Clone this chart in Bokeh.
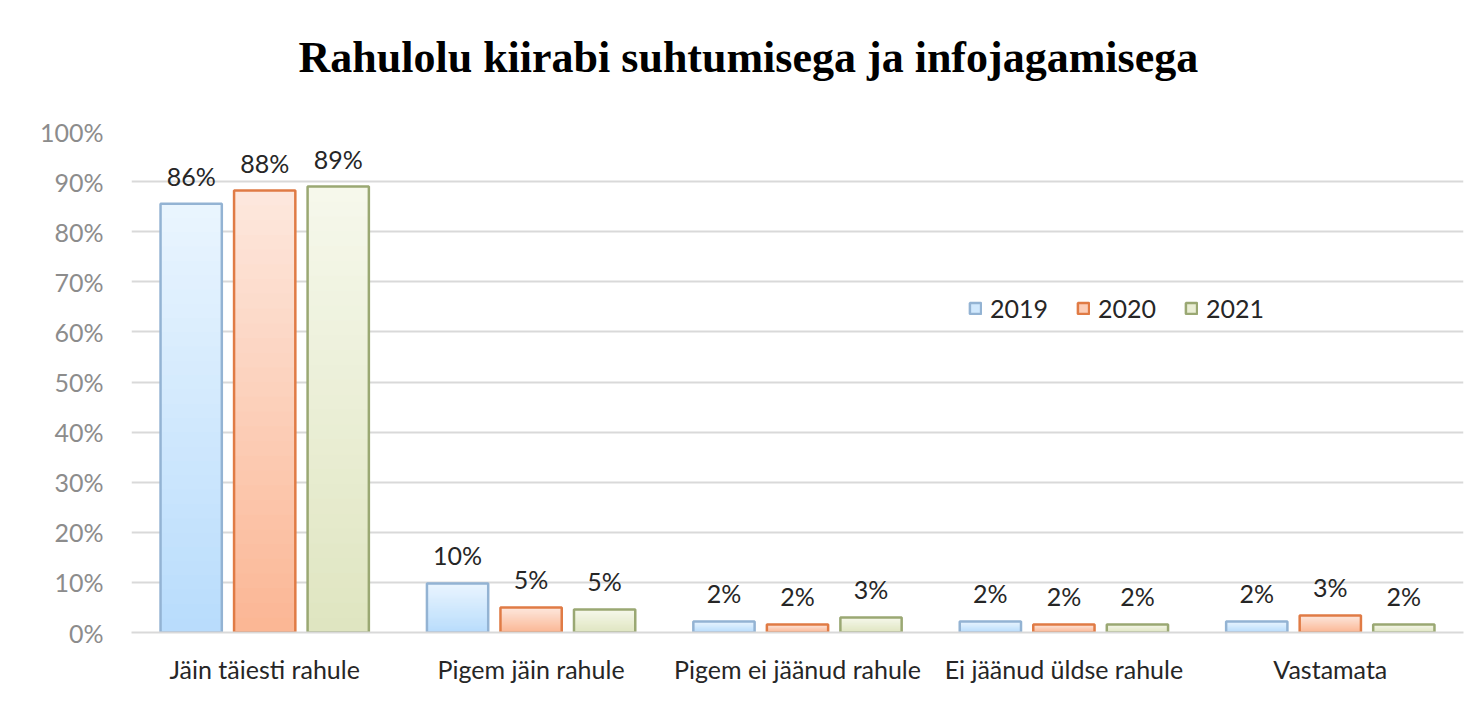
from bokeh.plotting import figure
from bokeh.models import (ColumnDataSource, Range1d, LabelSet, Legend, LegendItem,
                          PrintfTickFormatter, Title)
from bokeh.core.properties import value
from bokeh.transform import dodge
from bokeh.embed import file_html
from bokeh.resources import INLINE

# ---- data ----
title_text = "Rahulolu  kiirabi  suhtumisega  ja  infojagamisega"
categories = ["Jäin täiesti rahule", "Pigem jäin rahule", "Pigem ei jäänud rahule",
              "Ei jäänud üldse rahule", "Vastamata"]
years = ["2019", "2020", "2021"]
v2019 = [85.6, 9.8, 2.2, 2.2, 2.2]
v2020 = [88.2, 5.0, 1.6, 1.6, 3.4]
v2021 = [89.0, 4.6, 3.0, 1.6, 1.6]
series = [v2019, v2020, v2021]

# ---- style ----
top_cols = [(234, 245, 254), (253, 232, 222), (246, 248, 236)]
bot_cols = [(184, 220, 252), (251, 182, 148), (223, 229, 192)]
line_cols = ["#93b3d3", "#e07b45", "#9aa873"]
offsets = [-0.276, 0.0, 0.276]
bar_w = 0.23
N = 30
FONT = "Lato"
FS = "25px"

p = figure(x_range=categories, y_range=Range1d(0, 100), width=1477, height=728,
           output_backend="svg", toolbar_location=None,
           min_border_left=131, min_border_right=14, min_border_top=131,
           min_border_bottom=96)
p.outline_line_color = None
p.border_fill_color = "white"

p.title.text = title_text
p.title.text_font = "Liberation Serif"
p.title.text_font_style = "bold"
p.title.text_font_size = "44px"
p.title.align = "left"
p.title.offset = 167
p.title.text_color = "black"
p.title.standoff = 10

# invisible spacer between the title and the plot area
p.add_layout(Title(text=" ", text_font_size="1px", standoff=42), "above")

p.xgrid.grid_line_color = None
p.ygrid.grid_line_color = "#d9d9d9"
p.ygrid.grid_line_width = 2

p.yaxis.axis_line_color = None
p.yaxis.major_tick_line_color = None
p.yaxis.minor_tick_line_color = None
p.yaxis.ticker = list(range(0, 101, 10))
p.yaxis.formatter = PrintfTickFormatter(format="%d%%")
p.yaxis.major_label_text_font = FONT
p.yaxis.major_label_text_font_size = FS
p.yaxis.major_label_text_color = "#8c8c8c"
p.yaxis.major_label_standoff = 22

p.xaxis.axis_line_color = "#d9d9d9"
p.xaxis.axis_line_width = 2
p.xaxis.major_tick_line_color = None
p.xaxis.minor_tick_line_color = None
p.xaxis.major_label_text_font = FONT
p.xaxis.major_label_text_font_size = FS
p.xaxis.major_label_text_color = "#262626"
p.xaxis.major_label_standoff = 15

def mix(a, b, t):
    return "#%02x%02x%02x" % tuple(int(round(a[i] + (b[i] - a[i]) * t)) for i in range(3))

legend_items = []
for si, (yr, vals) in enumerate(zip(years, series)):
    mid_r = None
    for k in range(N):
        frac = (N - k) / N
        t = (k + 0.5) / N
        src = ColumnDataSource(dict(cat=categories, top=[v * frac for v in vals]))
        r = p.vbar(x=dodge("cat", offsets[si], range=p.x_range), top="top", bottom=0,
                   width=bar_w, source=src, fill_color=mix(top_cols[si], bot_cols[si], t),
                   line_color=None)
        if k == N // 2:
            mid_r = r
    src = ColumnDataSource(dict(cat=categories, top=vals,
                                lab=["%d%%" % round(v) for v in vals]))
    out = p.vbar(x=dodge("cat", offsets[si], range=p.x_range), top="top", bottom=0,
                 width=bar_w, source=src, fill_alpha=0, line_color=line_cols[si],
                 line_width=2.5)
    labels = LabelSet(x=dodge("cat", offsets[si], range=p.x_range), y="top", text="lab",
                      source=src, y_offset=28, text_align="center",
                      text_baseline="middle", text_font=value(FONT),
                      text_font_size=value(FS), text_color="#262626")
    p.add_layout(labels)
    legend_items.append(LegendItem(label=yr, renderers=[mid_r, out]))

legend = Legend(items=legend_items, orientation="horizontal", location=(837, 309),
                glyph_width=14, glyph_height=14, label_text_font=FONT,
                label_text_font_size=FS, label_text_color="#262626",
                spacing=28, label_standoff=8, background_fill_alpha=0,
                border_line_color=None, padding=0, margin=0)
p.add_layout(legend, "center")

open("out.html", "w").write(file_html(p, INLINE))
